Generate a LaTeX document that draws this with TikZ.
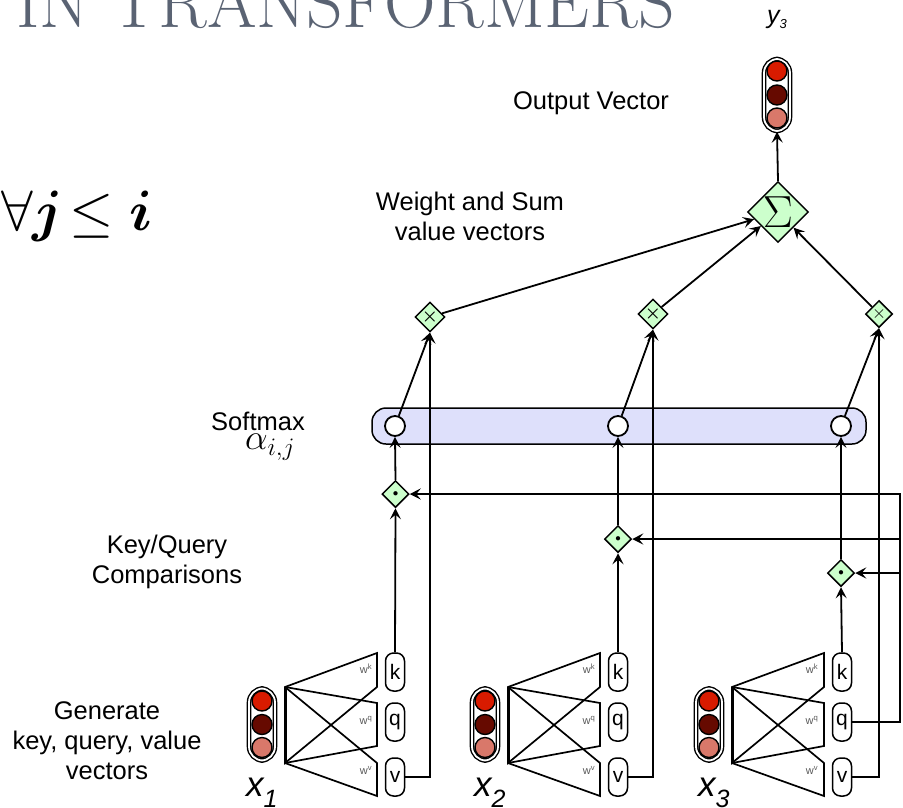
\documentclass[tikz,border=0pt]{standalone}
\usepackage{fix-cm}
\usepackage{amsmath,amssymb,amsfonts}
\usepackage{fontspec}
\setsansfont{Liberation Sans}
\usepackage{xcolor}
\usepackage{tikz}
\usetikzlibrary{shapes}
\usetikzlibrary{shapes.geometric}
\usetikzlibrary{arrows.meta}
\definecolor{titlegray}{HTML}{5A6373}
\definecolor{vecred}{HTML}{D81B00}
\definecolor{vecdark}{HTML}{660A00}
\definecolor{veclight}{HTML}{D9786A}
\definecolor{opgreen}{HTML}{CCFFCC}
\definecolor{softblue}{HTML}{DEE0FB}
\newcommand{\lowsub}[1]{\raisebox{-11pt}{\fontsize{25}{25}\selectfont #1}}
\tikzset{
  wire/.style={line width=1.8pt, -{Stealth[length=11pt,width=11pt,inset=4.5pt]}},
  trap/.style={line width=1.7pt, line join=miter},
  label/.style={font=\sffamily\fontsize{25.5}{30}\selectfont, align=center, inner sep=0pt},
  wlabel/.style={font=\sffamily\fontsize{11}{11}\selectfont, text=black!65, inner sep=0pt},
  veclabel/.style={font=\sffamily\itshape\fontsize{35}{35}\selectfont, anchor=base west, inner sep=0pt},
  vecpill/.style={draw, double, double distance=1.8pt, line width=1.4pt, rounded corners=14pt, minimum width=26pt, minimum height=72pt, inner sep=0pt},
  cell/.style={draw, line width=1.4pt, circle, minimum size=20pt, inner sep=0pt, fill=#1},
  kqv/.style={draw, line width=1.5pt, fill=white, rounded corners=8pt, minimum width=19pt, minimum height=38pt, inner sep=0pt, font=\sffamily\fontsize{21}{21}\selectfont},
  op/.style={draw, line width=1.5pt, diamond, fill=opgreen, minimum size=#1, inner sep=0pt},
  op/.default={27pt},
  softcell/.style={draw, line width=1.8pt, circle, minimum size=20pt, inner sep=0pt, fill=white}
}

\begin{document}
\begin{tikzpicture}[x=1pt, y=-1pt]
\useasboundingbox (0, 0) rectangle (903, 807);
\begin{scope}
\clip (0, 0) rectangle (903, 807);
\node[anchor=base west, inner sep=0pt, text=titlegray, font=\fontsize{71.5}{72}\selectfont] (title) at (16, 27) {IN TRANSFORMERS};
\node[anchor=base west, inner sep=0pt, font=\fontsize{57}{57}\selectfont] (cond) at (1, 230) {$\forall \boldsymbol{j} \mkern-3mu \leq \boldsymbol{i}$};
\end{scope}
% left column of labels
\node[label] (outlabel) at (591, 103.5) {Output Vector};
\node[label] (sumlabel) at (470, 216) {Weight and Sum\\value vectors};
\node[label] (softlabel) at (258, 421) {Softmax};
\node[inner sep=0pt, font=\fontsize{36}{36}\selectfont] (alphalabel) at (270, 447) {$\alpha_{i,j}$};
\node[label] (cmplabel) at (167, 562) {Key/Query\\Comparisons};
\node[label] (genlabel) at (107, 741) {Generate\\key, query, value\\vectors};
% softmax bar
\node[draw, line width=1.5pt, fill=softblue, rounded corners=14pt, minimum width=494pt, minimum height=36pt, inner sep=0pt] (softbar) at (619, 426) {};
\node[softcell] (soft1) at (395, 426) {};
\node[softcell] (soft2) at (618, 426) {};
\node[softcell] (soft3) at (841, 426) {};
% output
\node[vecpill] (outvec) at (777, 95) {};
\node[cell=vecred] (out1) at (777, 71) {};
\node[cell=vecdark] (out2) at (777, 95) {};
\node[cell=veclight] (out3) at (777, 118) {};
\node[font=\sffamily\itshape\fontsize{25}{25}\selectfont, anchor=base west, inner sep=0pt] (outname) at (767, 23) {y\raisebox{-5pt}{\fontsize{13}{13}\selectfont 3}};
\node[op=60pt] (sum) at (778, 212) {\fontsize{45}{45}\selectfont$\Sigma$};
\node[op] (mul1) at (430, 317) {\fontsize{18}{18}\selectfont$\boldsymbol{\times}$};
\node[op] (mul2) at (653, 314) {\fontsize{18}{18}\selectfont$\boldsymbol{\times}$};
\node[op] (mul3) at (879, 314) {\fontsize{18}{18}\selectfont$\times$};
\node[op] (dot1) at (395.5, 494) {\fontsize{11}{11}\selectfont$\bullet$};
\node[op] (dot2) at (618, 539) {\fontsize{11}{11}\selectfont$\bullet$};
\node[op] (dot3) at (841, 573) {\fontsize{11}{11}\selectfont$\bullet$};
% input x1
\node[vecpill] (vec1) at (262, 724.5) {};
\node[cell=vecred] (a1) at (262, 701) {};
\node[cell=vecdark] (b1) at (262, 724.5) {};
\node[cell=veclight] (c1) at (262, 747.5) {};
\draw[trap] (285, 687) -- (377, 653) -- (377, 687) -- (285, 763) -- cycle;
\draw[trap] (285, 687) -- (377, 703) -- (377, 746) -- (285, 763);
\draw[trap] (285, 687) -- (377, 763) -- (377, 796) -- (285, 763);
\draw[line width=3pt] (285, 687) -- (285, 763);
\node[wlabel] (wk1) at (366, 669) {w\textsuperscript{k}};
\node[wlabel] (wq1) at (366, 720) {w\textsuperscript{q}};
\node[wlabel] (wv1) at (366, 770) {w\textsuperscript{v}};
\node[kqv] (k1) at (395, 672) {k};
\node[kqv] (q1) at (395, 722) {q};
\node[kqv] (v1) at (395, 777) {v};
\node[veclabel] (x1) at (246, 796) {x\lowsub{1}};
% input x2
\node[vecpill] (vec2) at (485, 724.5) {};
\node[cell=vecred] (a2) at (485, 701) {};
\node[cell=vecdark] (b2) at (485, 724.5) {};
\node[cell=veclight] (c2) at (485, 747.5) {};
\draw[trap] (508, 687) -- (600, 653) -- (600, 687) -- (508, 763) -- cycle;
\draw[trap] (508, 687) -- (600, 703) -- (600, 746) -- (508, 763);
\draw[trap] (508, 687) -- (600, 763) -- (600, 796) -- (508, 763);
\draw[line width=3pt] (508, 687) -- (508, 763);
\node[wlabel] (wk2) at (589, 669) {w\textsuperscript{k}};
\node[wlabel] (wq2) at (589, 720) {w\textsuperscript{q}};
\node[wlabel] (wv2) at (589, 770) {w\textsuperscript{v}};
\node[kqv] (k2) at (618, 672) {k};
\node[kqv] (q2) at (618, 722) {q};
\node[kqv] (v2) at (618, 777) {v};
\node[veclabel] (x2) at (474, 796) {x\lowsub{2}};
% input x3
\node[vecpill] (vec3) at (709, 724.5) {};
\node[cell=vecred] (a3) at (709, 701) {};
\node[cell=vecdark] (b3) at (709, 724.5) {};
\node[cell=veclight] (c3) at (709, 747.5) {};
\draw[trap] (732, 687) -- (824, 653) -- (824, 687) -- (732, 763) -- cycle;
\draw[trap] (732, 687) -- (824, 703) -- (824, 746) -- (732, 763);
\draw[trap] (732, 687) -- (824, 763) -- (824, 796) -- (732, 763);
\draw[line width=3pt] (732, 687) -- (732, 763);
\node[wlabel] (wk3) at (812, 669) {w\textsuperscript{k}};
\node[wlabel] (wq3) at (812, 720) {w\textsuperscript{q}};
\node[wlabel] (wv3) at (812, 770) {w\textsuperscript{v}};
\node[kqv] (k3) at (842, 672) {k};
\node[kqv] (q3) at (842, 722) {q};
\node[kqv] (v3) at (842, 777) {v};
\node[veclabel] (x3) at (698, 796) {x\lowsub{3}};
% connectors
\draw[wire] (k1.north) -- (dot1.south);
\draw[wire] (k2.north) -- (dot2.south);
\draw[wire] (k3.north) -- (dot3.south);
\draw[wire] (dot1.north) -- (soft1.south);
\draw[wire] (dot2.north) -- (soft2.south);
\draw[wire] (dot3.north) -- (soft3.south);
\draw[wire] (soft1) -- (mul1.south);
\draw[wire] (soft2) -- (mul2.south);
\draw[wire] (soft3) -- (mul3.south);
\draw[wire] (v1.east) -| (mul1.south);
\draw[wire] (v2.east) -| (mul2.south);
\draw[wire] (v3.east) -| (mul3.south);
\coordinate (qtop) at (900, 494);
\coordinate (qmid2) at (900, 539);
\coordinate (qmid3) at (900, 573);
\draw[wire] (q3.east) -| (qtop) -- (dot1.east);
\draw[wire] (qmid2) -- (dot2.east);
\draw[wire] (qmid3) -- (dot3.east);
\draw[wire] (mul1) -- (sum);
\draw[wire] (mul2) -- (sum);
\draw[wire] (mul3) -- (sum);
\draw[wire] (sum.north) -- (outvec.south);
\end{tikzpicture}
\end{document}
